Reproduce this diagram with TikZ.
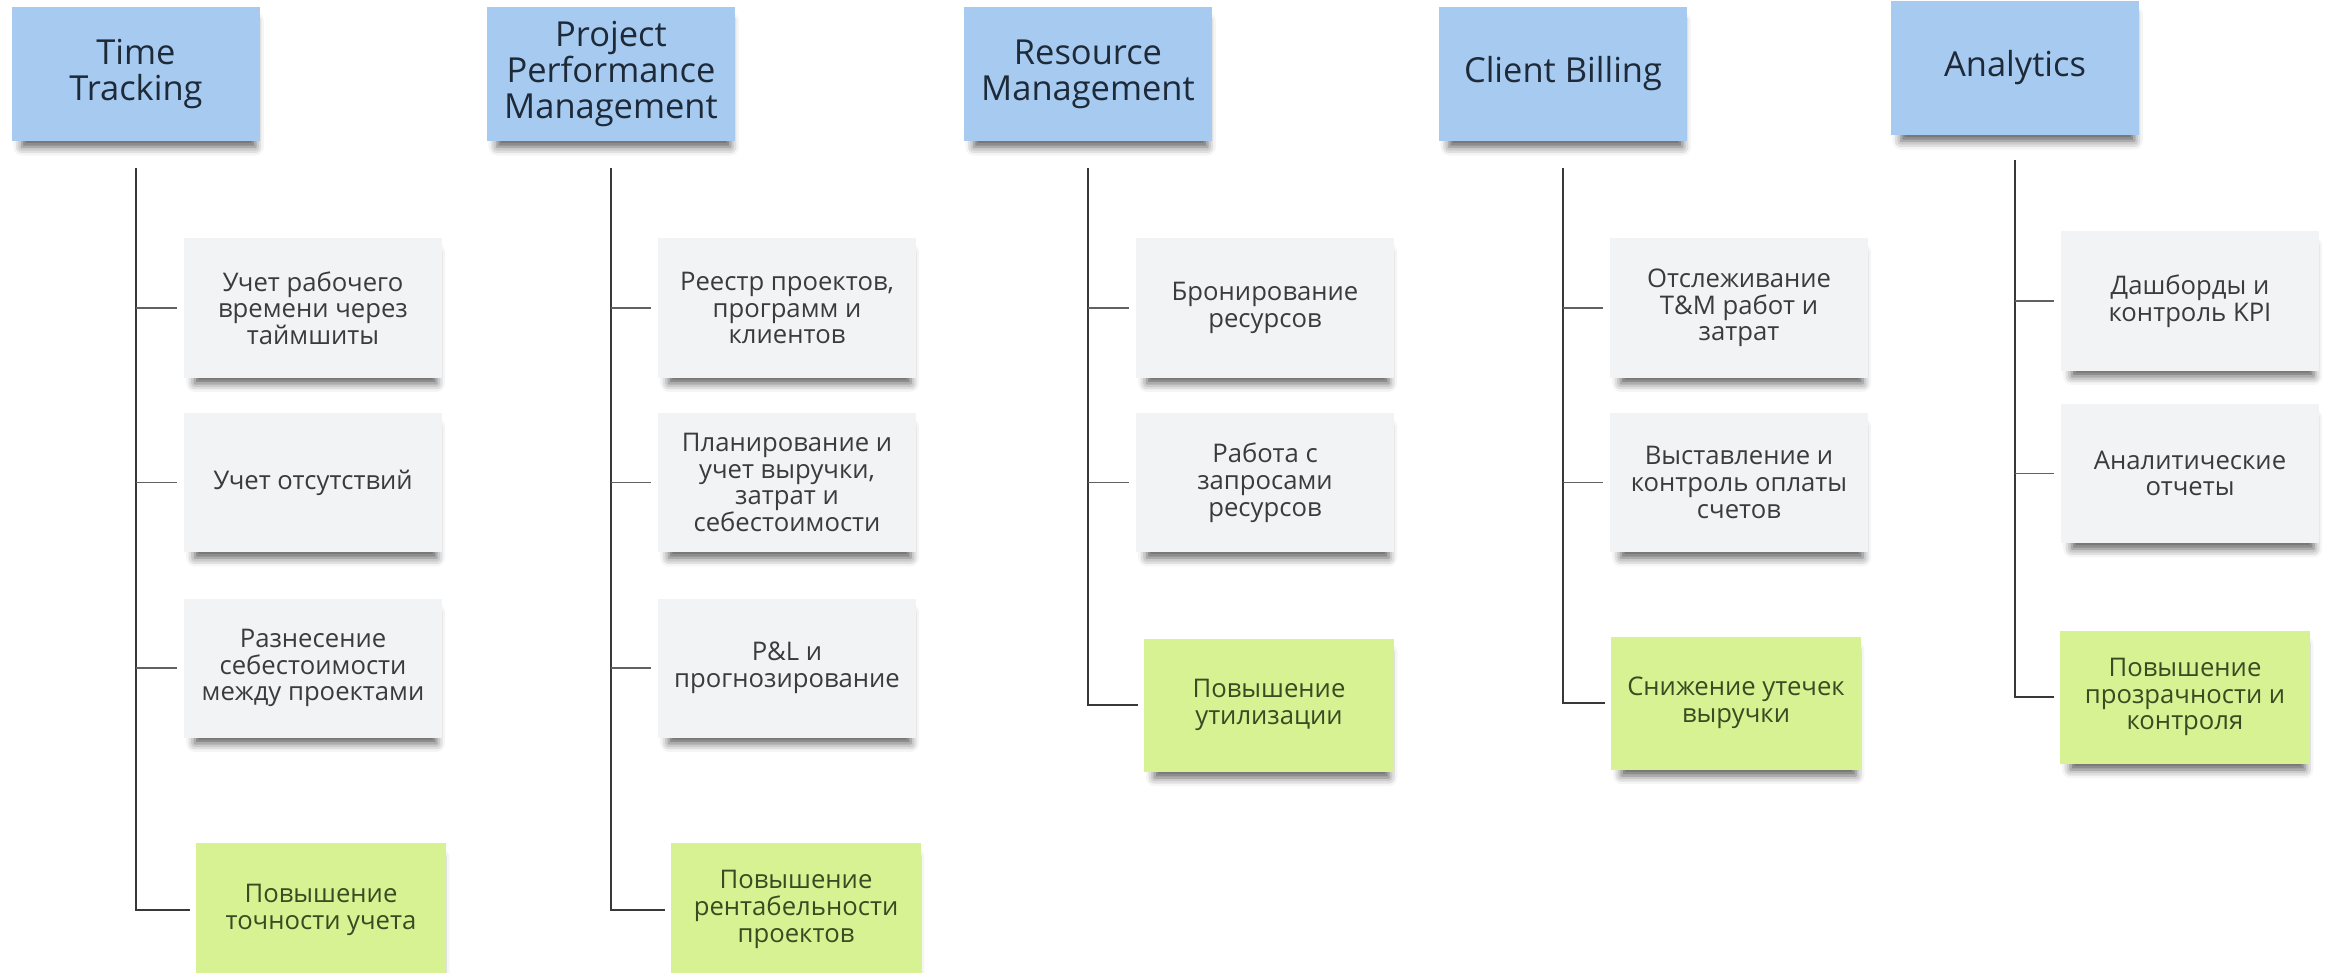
\documentclass[tikz,border=0pt]{standalone}
\usepackage{fontspec}
\setmainfont{Open Sans}
\usepackage{tikz}
\usetikzlibrary{positioning, shadows.blur}

\definecolor{headblue}{HTML}{A6CAF0}
\definecolor{cardgray}{HTML}{F2F3F4}
\definecolor{goalgreen}{HTML}{D6F292}
\definecolor{inkdark}{HTML}{1E2A38}
\definecolor{inkgray}{HTML}{3B3B3B}
\definecolor{inkgreen}{HTML}{3A4A22}

\begin{document}
\begin{tikzpicture}[x=0.01cm, y=-0.01cm,
    note/.style = {align=center, inner sep=2pt,
        blur shadow={shadow xshift=0.8pt, shadow yshift=-3pt, shadow scale=0.94, shadow blur radius=2.6pt, shadow opacity=65}},
    head/.style = {note, fill=headblue, text=inkdark, minimum width=2.48cm, minimum height=1.34cm,
        font=\fontsize{9.8}{10.3}\selectfont},
    card/.style = {note, fill=cardgray, text=inkgray, minimum width=2.57cm, minimum height=1.39cm,
        font=\fontsize{7.3}{7.6}\selectfont},
    goal/.style = {note, fill=goalgreen, text=inkgreen, minimum width=2.49cm, minimum height=1.33cm,
        font=\fontsize{7.3}{7.6}\selectfont},
    trunk/.style = {draw=black!78, line width=0.55pt, shorten >=0.06cm},
    branch/.style = {draw=black!62, line width=0.45pt, shorten >=0.07cm}]

    \useasboundingbox (0,0) rectangle (2326,973);

    \node[head] (tt) at (136,74) {Time\\Tracking};
    \node[card, below right = 0.96cm and -0.77cm of tt] (tt-c1) {Учет рабочего\\времени через\\таймшиты};
    \node[card, below = 0.34cm of tt-c1] (tt-c2) {Учет отсутствий};
    \node[card, below = 0.45cm of tt-c2] (tt-c3) {Разнесение\\себестоимости\\между проектами};
    \node[goal, below = 1.04cm of tt-c3, xshift=0.08cm] (tt-goal) {Повышение\\точности учета};
    \coordinate[below = 0.26cm of tt] (tt-top);

    \node[head] (ppm) at (611,74) {Project\\Performance\\Management};
    \node[card, below right = 0.96cm and -0.78cm of ppm] (ppm-c1) {Реестр проектов,\\программ и\\клиентов};
    \node[card, below = 0.34cm of ppm-c1] (ppm-c2) {Планирование и\\учет выручки,\\затрат и\\себестоимости};
    \node[card, below = 0.45cm of ppm-c2] (ppm-c3) {P\&L и\\прогнозирование};
    \node[goal, below = 1.04cm of ppm-c3, xshift=0.09cm] (ppm-goal) {Повышение\\рентабельности\\проектов};
    \coordinate[below = 0.26cm of ppm] (ppm-top);

    \node[head] (rm) at (1088,74) {Resource\\Management};
    \node[card, below right = 0.96cm and -0.77cm of rm] (rm-c1) {Бронирование\\ресурсов};
    \node[card, below = 0.34cm of rm-c1] (rm-c2) {Работа с\\запросами\\ресурсов};
    \node[goal, below = 0.85cm of rm-c2, xshift=0.04cm] (rm-goal) {Повышение\\утилизации};
    \coordinate[below = 0.26cm of rm] (rm-top);

    \node[head] (cb) at (1563,74) {Client Billing};
    \node[card, below right = 0.96cm and -0.78cm of cb] (cb-c1) {Отслеживание\\T\&M работ и\\затрат};
    \node[card, below = 0.34cm of cb-c1] (cb-c2) {Выставление и\\контроль оплаты\\счетов};
    \node[goal, below = 0.83cm of cb-c2, xshift=-0.03cm] (cb-goal) {Снижение утечек\\выручки};
    \coordinate[below = 0.26cm of cb] (cb-top);

    \node[head] (an) at (2015,68) {Analytics};
    \node[card, below right = 0.95cm and -0.79cm of an] (an-c1) {Дашборды и\\контроль KPI};
    \node[card, below = 0.32cm of an-c1] (an-c2) {Аналитические\\отчеты};
    \node[goal, below = 0.86cm of an-c2, xshift=-0.05cm] (an-goal) {Повышение\\прозрачности и\\контроля};
    \coordinate[below = 0.24cm of an] (an-top);

    \draw[trunk] (tt-top) |- (tt-goal.west);
    \draw[branch] (tt-top |- tt-c1.west) -- (tt-c1.west);
    \draw[branch] (tt-top |- tt-c2.west) -- (tt-c2.west);
    \draw[branch] (tt-top |- tt-c3.west) -- (tt-c3.west);

    \draw[trunk] (ppm-top) |- (ppm-goal.west);
    \draw[branch] (ppm-top |- ppm-c1.west) -- (ppm-c1.west);
    \draw[branch] (ppm-top |- ppm-c2.west) -- (ppm-c2.west);
    \draw[branch] (ppm-top |- ppm-c3.west) -- (ppm-c3.west);

    \draw[trunk] (rm-top) |- (rm-goal.west);
    \draw[branch] (rm-top |- rm-c1.west) -- (rm-c1.west);
    \draw[branch] (rm-top |- rm-c2.west) -- (rm-c2.west);

    \draw[trunk] (cb-top) |- (cb-goal.west);
    \draw[branch] (cb-top |- cb-c1.west) -- (cb-c1.west);
    \draw[branch] (cb-top |- cb-c2.west) -- (cb-c2.west);

    \draw[trunk] (an-top) |- (an-goal.west);
    \draw[branch] (an-top |- an-c1.west) -- (an-c1.west);
    \draw[branch] (an-top |- an-c2.west) -- (an-c2.west);

\end{tikzpicture}
\end{document}
